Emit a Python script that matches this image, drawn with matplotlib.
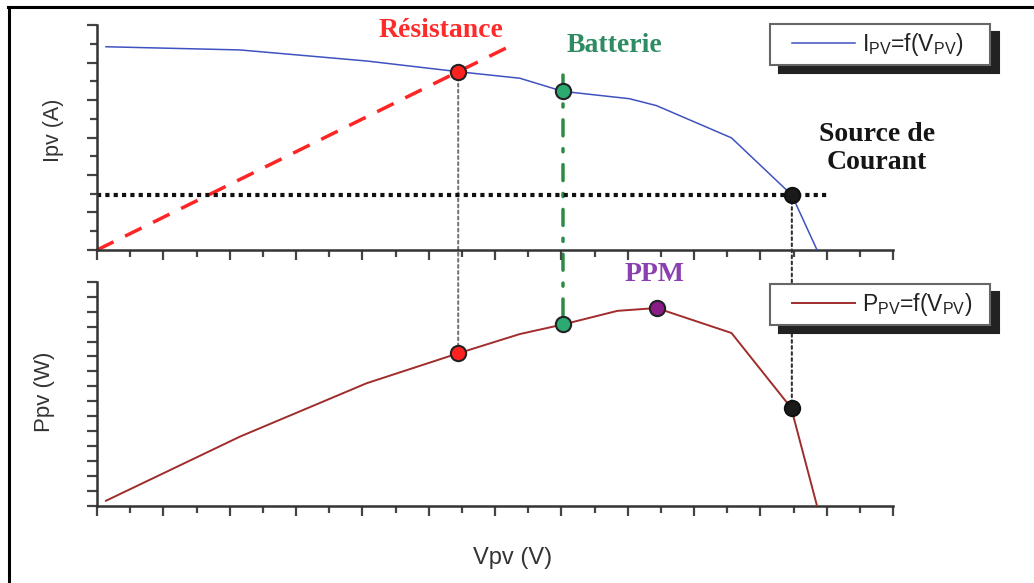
import numpy as np
import matplotlib
matplotlib.use("Agg")
from matplotlib import pyplot as plt
from matplotlib.patches import ConnectionPatch
from matplotlib.lines import Line2D
from matplotlib.legend_handler import HandlerLine2D

plt.rcParams['font.family'] = ['Liberation Sans', 'DejaVu Sans']
plt.rcParams['mathtext.fontset'] = 'custom'
plt.rcParams['mathtext.rm'] = 'Liberation Sans'
plt.rcParams['mathtext.it'] = 'Liberation Sans'

# courbe I-V (unites arbitraires)
v_iv = [0.27, 4.31, 8.13, 10.89, 12.75, 14.05, 16.05, 16.87, 19.13, 20.95, 21.71]
i_pv = [10.84, 10.67, 10.08, 9.51, 9.16, 8.46, 8.07, 7.70, 5.98, 2.93, 0.0]

# courbe P-V
v_pv = [0.27, 4.31, 8.13, 10.89, 12.75, 14.05, 15.69, 16.87, 19.13, 20.93, 21.71]
p_pv = [0.35, 4.64, 8.21, 10.21, 11.5, 12.14, 13.05, 13.24, 11.57, 6.56, 0.0]

# points de fonctionnement (V, I, P)
pt_res = (10.89, 9.51, 10.21)
pt_bat = (14.05, 8.46, 12.14)
pt_src = (20.95, 2.93, 6.56)
pt_ppm = (16.87, 13.24)

bat_top = 9.33      # debut du trait batterie
res_end = 12.45     # fin de la droite resistance
src_end = 22.1      # fin de l'horizontale source de courant

W, H = 1034, 583
fig = plt.figure(figsize=(W / 100, H / 100), dpi=100)
ax1 = fig.add_axes([97 / W, 1 - 250 / H, 796 / W, 225 / H])
ax2 = fig.add_axes([97 / W, 1 - 506 / H, 796 / W, 224.3 / H])

for ax, ytop in ((ax1, 12), (ax2, 15)):
    ax.set_facecolor('none')
    ax.set_xlim(0, 24)
    ax.set_ylim(0, ytop)
    for s in ('top', 'right'):
        ax.spines[s].set_visible(False)
    for s in ('left', 'bottom'):
        ax.spines[s].set_color('#333333')
        ax.spines[s].set_linewidth(1.8)
    ax.set_xticks(np.arange(0, 25, 2))
    ax.set_xticks(np.arange(0, 25, 1), minor=True)
    ax.tick_params(which='major', direction='out', length=7, width=1.6,
                   color='#444444', labelbottom=False, labelleft=False)
    ax.tick_params(which='minor', direction='out', length=5, width=1.6,
                   color='#444444')
ax1.set_yticks(np.arange(0, 13, 2))
ax1.set_yticks(np.arange(0, 13, 1), minor=True)
ax2.set_yticks(np.arange(0, 16, 1))
ax2.set_yticks([], minor=True)

# --- courbe I = f(V)
l1, = ax1.plot(v_iv, i_pv, color='#3f52c0', lw=1.1, zorder=3)
r_slope = pt_res[1] / pt_res[0]
ax1.plot([0, res_end], [0, r_slope * res_end], color='#ff2525', lw=2.5,
         dashes=(5.3, 3.7), clip_on=False, zorder=2)
ax1.plot([0, src_end], [pt_src[1], pt_src[1]], color='#111111', lw=3,
         dashes=(1, 1), zorder=2)
ax1.plot(pt_res[0], pt_res[1], 'o', ms=11, mfc='#ff2020', mec='#222222', mew=1.5, zorder=5)
ax1.plot(pt_bat[0], pt_bat[1], 'o', ms=11, mfc='#2bab72', mec='#222222', mew=1.5, zorder=5)
ax1.plot(pt_src[0], pt_src[1], 'o', ms=11, mfc='#1a1a1a', mec='#111111', mew=1.5, zorder=5)

# --- courbe P = f(V)
l2, = ax2.plot(v_pv, p_pv, color='#a02c2c', lw=1.4, zorder=3)
ax2.plot(pt_res[0], pt_res[2], 'o', ms=11, mfc='#ff2020', mec='#222222', mew=1.5, zorder=5)
ax2.plot(pt_bat[0], pt_bat[2], 'o', ms=11, mfc='#2bab72', mec='#222222', mew=1.5, zorder=5)
ax2.plot(pt_ppm[0], pt_ppm[1], 'o', ms=11, mfc='#8a1c8a', mec='#222222', mew=1.5, zorder=5)
ax2.plot(pt_src[0], pt_src[2], 'o', ms=11, mfc='#1a1a1a', mec='#111111', mew=1.5, zorder=5)

# traits verticaux entre les deux graphes
def link(xa, ya, xb, yb, **kw):
    con = ConnectionPatch(xyA=(xa, ya), coordsA='data', axesA=ax1,
                          xyB=(xb, yb), coordsB='data', axesB=ax2,
                          arrowstyle='-', zorder=-1, **kw)
    fig.add_artist(con)

link(pt_res[0], pt_res[1], pt_res[0], pt_res[2], color='#777777', lw=1.5,
     linestyle=(0, (1.3, 1.6)))
link(pt_bat[0], bat_top, pt_bat[0], pt_bat[2], color='#2e8b45', lw=2.5,
     linestyle=(0, (4.6, 3.7, 0.9, 3.7)))
link(pt_src[0], pt_src[1], pt_src[0], pt_src[2], color='#333333', lw=1.5,
     linestyle=(0, (1.3, 1.6)))

# textes
serif = dict(family='Liberation Serif', fontweight='bold', fontsize=20,
             ha='center', va='center', clip_on=False)
ax1.text(10.37, 11.73, 'Résistance', color='#ff2b2b', **serif)
ax1.text(15.59, 10.93, 'Batterie', color='#2e8b62', **serif)
ax1.text(23.52, 5.42, 'Source de\nCourant', color='#151515', linespacing=1.12, **serif)
ax2.text(16.82, 15.45, 'PPM', color='#8a40b0', **serif)

ax1.set_ylabel('Ipv (A)', fontsize=15.5, color='#333333')
ax1.yaxis.set_label_coords(-0.041, 0.533)
ax2.set_ylabel('Ppv (W)', fontsize=16, color='#333333')
ax2.yaxis.set_label_coords(-0.053, 0.508)
ax2.set_xlabel('Vpv (V)', fontsize=17, color='#333333')
ax2.xaxis.set_label_coords(0.5226, -0.183)

# legendes
shadow = {'ox': 6.5, 'oy': -6, 'facecolor': '#222222', 'edgecolor': '#222222', 'alpha': 1}
hmap = {Line2D: HandlerLine2D(xpad=0.65)}
for line, label, top in ((l1, r'I$_{\mathrm{PV}}$=f(V$_{\mathrm{PV}}$)', 24),
                         (l2, r'P$_{\mathrm{PV}}$=f(V$_{\mathrm{PV}}$)', 284)):
    leg = fig.legend([line], [label], loc='upper left',
                     bbox_to_anchor=(770 / W, 1 - (top + 40) / H, 220 / W, 40 / H),
                     mode='expand', borderaxespad=0, fontsize=16.5, fancybox=False,
                     shadow=shadow, framealpha=1, edgecolor='#666666',
                     handlelength=3.4, handletextpad=0.3, borderpad=0.3,
                     handler_map=hmap)
    leg.get_frame().set_linewidth(1.5)
    for t in leg.get_texts():
        t.set_color('#222222')

# cadre
fig.add_artist(Line2D([8 / W, 1], [1 - 7 / H, 1 - 7 / H], color='black', lw=2.2))
fig.add_artist(Line2D([9 / W, 9 / W], [0, 1 - 7 / H], color='black', lw=2.2))

fig.savefig('out.png', dpi=100)
